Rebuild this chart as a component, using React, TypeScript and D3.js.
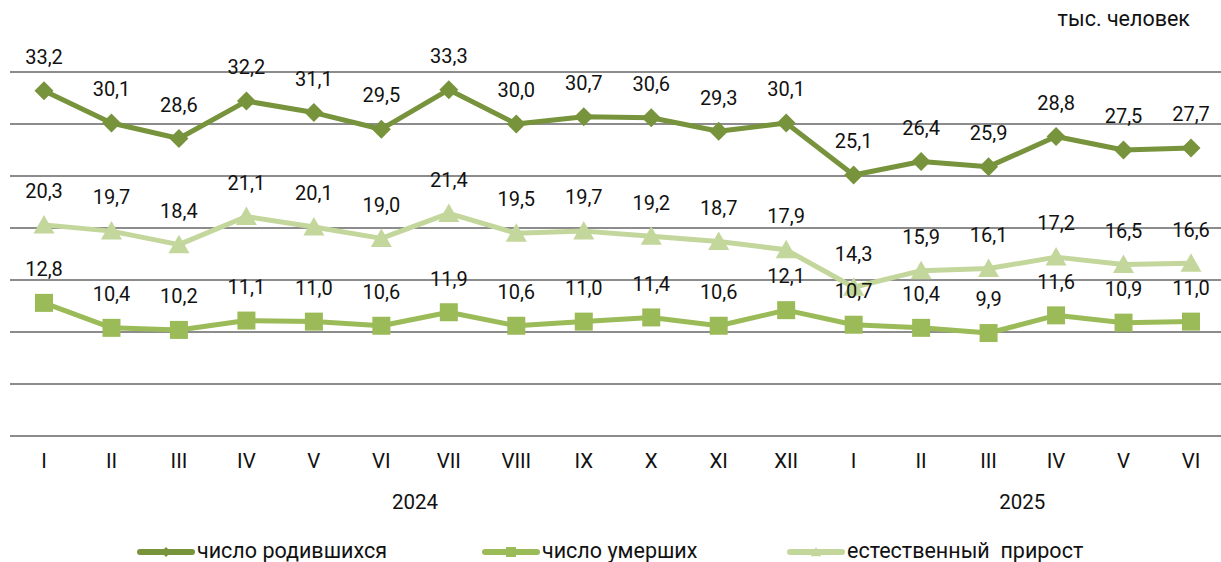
import React from "react";
import * as d3 from "d3";

// месяцы
const months = ["I", "II", "III", "IV", "V", "VI", "VII", "VIII", "IX", "X", "XI", "XII", "I", "II", "III", "IV", "V", "VI"];
const years = ["2024", "2025"];
const yearSpans = [[0, 11], [12, 17]];

const births = [33.2, 30.1, 28.6, 32.2, 31.1, 29.5, 33.3, 30.0, 30.7, 30.6, 29.3, 30.1, 25.1, 26.4, 25.9, 28.8, 27.5, 27.7];
const deaths = [12.8, 10.4, 10.2, 11.1, 11.0, 10.6, 11.9, 10.6, 11.0, 11.4, 10.6, 12.1, 10.7, 10.4, 9.9, 11.6, 10.9, 11.0];
const growth = [20.3, 19.7, 18.4, 21.1, 20.1, 19.0, 21.4, 19.5, 19.7, 19.2, 18.7, 17.9, 14.3, 15.9, 16.1, 17.2, 16.5, 16.6];

const seriesNames = ["число родившихся", "число умерших", "естественный  прирост"];
const yTickValues = [0, 5, 10, 15, 20, 25, 30, 35];
const unitLabel = "тыс. человек";

const FONT = "Roboto, 'Noto Sans', Arial, sans-serif";

function Marker({ type, x, y, s, color }: { type: string; x: number; y: number; s: number; color: string }) {
  if (type === "diamond") {
    return <path d={`M${x},${y - s}L${x + s},${y}L${x},${y + s}L${x - s},${y}Z`} fill={color} />;
  }
  if (type === "square") {
    return <rect x={x - s} y={y - s} width={s * 2} height={s * 2} fill={color} />;
  }
  return <path d={`M${x},${y - s}L${x + s * 1.05},${y + s * 0.85}L${x - s * 1.05},${y + s * 0.85}Z`} fill={color} />;
}

export default function App() {
  const width = 1221,
    height = 562;

  const xScale = d3
    .scalePoint<number>()
    .domain(d3.range(months.length))
    .range([44, 1191]);

  const yScale = d3.scaleLinear().domain([0, 35]).range([436, 72]);

  const series = [
    { name: seriesNames[0], values: births, color: "#77933C", marker: "diamond", ms: 9.5 },
    { name: seriesNames[1], values: deaths, color: "#9BBB59", marker: "square", ms: 9 },
    { name: seriesNames[2], values: growth, color: "#C3D69B", marker: "triangle", ms: 10 },
  ];

  const line = d3
    .line<number>()
    .x((d, i) => xScale(i) as number)
    .y((d) => yScale(d));

  const fmt = (v: number) => v.toFixed(1).replace(".", ",");

  const legendX = [138, 483, 788];

  return (
    <svg width={width} height={height} style={{ position: "absolute", left: 0, top: 0, fontFamily: FONT }}>
      {/* сетка */}
      <g>
        {yTickValues.map((t) => (
          <line key={t} x1={10} x2={1221} y1={yScale(t)} y2={yScale(t)} stroke="#8c8c8c" strokeWidth={1.8} />
        ))}
      </g>

      {/* единицы */}
      <text x={1190} y={20} textAnchor="end" dominantBaseline="middle" fontSize={21.5} fill="#111">
        {unitLabel}
      </text>

      {/* линии */}
      {series.map((s) => (
        <g key={s.name}>
          <path d={line(s.values) || ""} fill="none" stroke={s.color} strokeWidth={5} strokeLinejoin="round" />
          {s.values.map((v, i) => (
            <Marker key={i} type={s.marker} x={xScale(i) as number} y={yScale(v)} s={s.ms} color={s.color} />
          ))}
        </g>
      ))}

      {/* подписи */}
      {series.map((s) => (
        <g key={s.name + "-lbl"}>
          {s.values.map((v, i) => (
            <text
              key={i}
              x={xScale(i) as number}
              y={yScale(v) - 32}
              textAnchor="middle"
              dominantBaseline="middle"
              fontSize={20}
              fill="#111"
            >
              {fmt(v)}
            </text>
          ))}
        </g>
      ))}

      {/* ось X */}
      {months.map((m, i) => (
        <text key={i} x={xScale(i) as number} y={463} textAnchor="middle" dominantBaseline="middle" fontSize={20.5} fill="#111">
          {m}
        </text>
      ))}
      {years.map((y, k) => (
        <text
          key={y}
          x={((xScale(yearSpans[k][0]) as number) + (xScale(yearSpans[k][1]) as number)) / 2}
          y={504}
          textAnchor="middle"
          dominantBaseline="middle"
          fontSize={20.5}
          fill="#111"
        >
          {y}
        </text>
      ))}

      {/* легенда */}
      {series.map((s, k) => (
        <g key={s.name + "-leg"}>
          <line x1={legendX[k] + 2} x2={legendX[k] + 54} y1={552} y2={552} stroke={s.color} strokeWidth={6} strokeLinecap="round" />
          <Marker type={s.marker} x={legendX[k] + 28} y={552} s={5} color={s.color} />
          <text x={legendX[k] + 59} y={552} dominantBaseline="middle" fontSize={21.5} fill="#111" style={{ whiteSpace: "pre" }}>
            {s.name}
          </text>
        </g>
      ))}
    </svg>
  );
}
